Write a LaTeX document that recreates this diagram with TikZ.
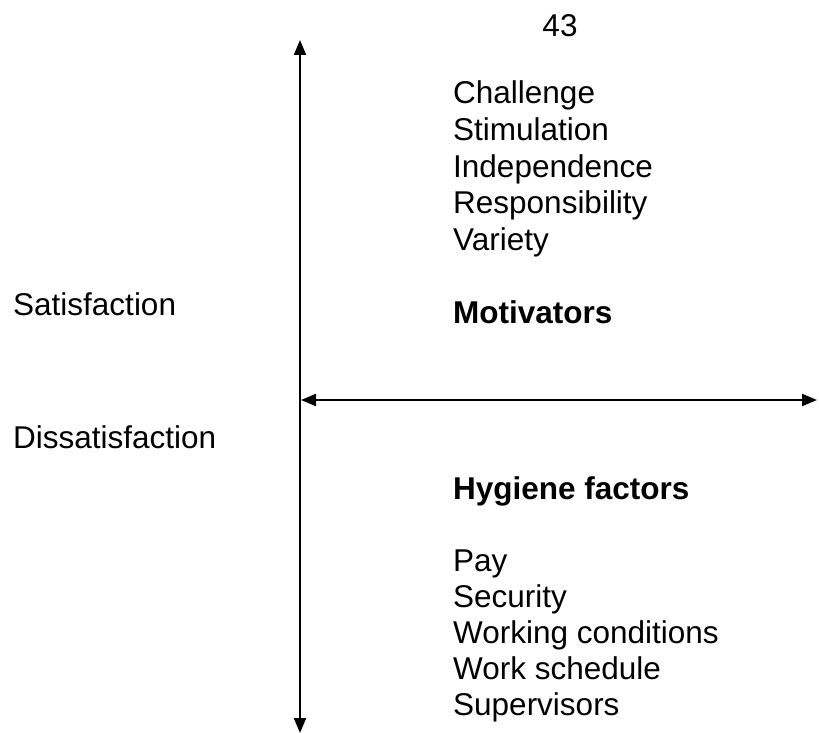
\documentclass[tikz,border=0pt]{standalone}
\usepackage{fontspec}
\setmainfont{Liberation Sans}
\usepackage{tikz}
\usetikzlibrary{arrows.meta}
\usetikzlibrary{positioning}

\tikzset{
	axis/.style={line width=2pt,{Triangle[length=15pt,width=12pt]}-{Triangle[length=15pt,width=12pt]}},
	label/.style={anchor=base west,inner sep=0pt,font=\fontsize{31.5}{36.5}\selectfont},
	heading/.style={label,font=\fontsize{31.5}{36.5}\selectfont\bfseries}
}

\begin{document}
\begin{tikzpicture}[x=1pt,y=-1pt]
		\useasboundingbox (0,0) rectangle (819,733);
		
		% page number
		\node[label,anchor=base] (page) at (560,37) {43};
		
		% axes
		\coordinate (top) at (300,40);
		\coordinate (bottom) at (300,733);
		\coordinate (left) at (301,400);
		\coordinate (right) at (817,400);
		\draw[axis] (top) -- (bottom);
		\draw[axis] (left) -- (right);
		
		% left labels
		\node[label] (sat) at (13,315) {Satisfaction};
		\node[label] (dissat) at (13,448) {Dissatisfaction};
		
		% motivators
		\foreach \t [count=\i] in {Challenge,Stimulation,Independence,Responsibility,Variety}
			\node[label] (mot-\i) at (453,{104+(\i-1)*36.5}) {\t};
		\node[heading] (mot) at (453,323) {Motivators};
		
		% hygiene factors
		\node[heading] (hyg) at (453,499) {Hygiene factors};
		\foreach \t [count=\i] in {Pay,Security,Working conditions,Work schedule,Supervisors}
			\node[label] (hyg-\i) at (453,{571+(\i-1)*36}) {\t};
	\end{tikzpicture}
\end{document}
